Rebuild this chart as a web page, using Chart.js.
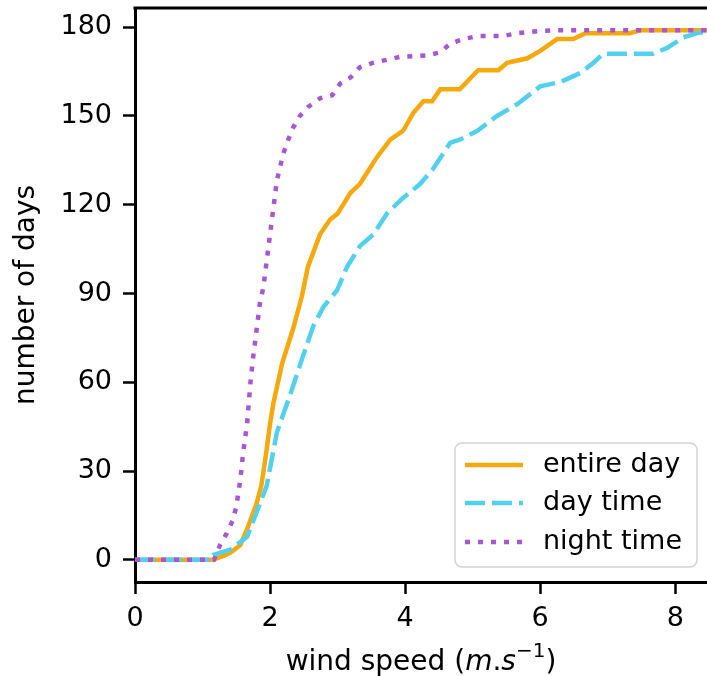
<!DOCTYPE html>
<html>
<head>
<meta charset="utf-8">
<script src="https://cdn.jsdelivr.net/npm/chart.js@4.4.1/dist/chart.umd.min.js"></script>
<style>
  html, body { margin: 0; padding: 0; background: #fff; }
  #chart { display: block; }
</style>
</head>
<body>
<canvas id="chart" width="707" height="676"></canvas>
<script>
// cumulative number of days vs wind speed
const entireSpeed = [0, 1.15, 1.3, 1.41, 1.56, 1.67, 1.8, 1.87, 1.93, 2.0, 2.05, 2.18, 2.34, 2.47, 2.56, 2.74, 2.89, 3.0, 3.19, 3.33, 3.58, 3.78, 3.97, 4.12, 4.27, 4.4, 4.52, 4.81, 5.08, 5.38, 5.51, 5.81, 6.0, 6.25, 6.49, 6.67, 7.33, 7.48, 8.47];
const entireDays  = [0, 0, 1.2, 2.4, 5, 11, 19, 25, 34, 46, 53, 66.5, 78, 89, 99, 110, 115, 117, 124, 127, 136, 142, 145, 151, 155, 155, 159, 159, 165.5, 165.5, 168, 169.5, 172, 176, 176, 178, 178, 179, 179];

const daySpeed = [0, 1.12, 1.16, 1.41, 1.66, 1.8, 1.95, 2.1, 2.3, 2.49, 2.64, 2.79, 2.99, 3.14, 3.33, 3.53, 3.73, 3.93, 4.22, 4.41, 4.67, 4.81, 5.07, 5.36, 5.66, 6.0, 6.3, 6.59, 6.79, 6.93, 7.67, 7.88, 8.12, 8.33, 8.47];
const dayDays  = [0, 0, 1.7, 3.4, 7.8, 16, 25, 43, 56, 69, 79, 85.5, 91, 99, 106, 110, 117, 121.5, 127, 132, 141, 142, 145, 150, 154, 160, 161.5, 164.5, 168, 171, 171, 173, 176.6, 178, 178.5];

const nightSpeed = [0, 1.17, 1.26, 1.36, 1.45, 1.5, 1.56, 1.6, 1.66, 1.71, 1.75, 1.8, 1.85, 1.9, 1.95, 2.0, 2.05, 2.1, 2.15, 2.2, 2.27, 2.34, 2.44, 2.56, 2.74, 2.92, 3.04, 3.19, 3.33, 3.53, 3.73, 3.93, 4.32, 4.52, 4.67, 4.86, 5.07, 5.45, 5.66, 6.04, 6.25, 8.47];
const nightDays  = [0, 0, 5, 9, 13.5, 18, 27, 36, 46, 60, 68.5, 77.7, 86.8, 92, 101, 110, 119, 128, 133, 137.5, 142, 146, 150, 153, 156, 157, 161, 163, 166.5, 168, 169, 170, 170.5, 171.5, 174.5, 176, 177, 177, 178, 178.8, 179, 179];

const seriesNames = ['entire day', 'day time', 'night time'];
const xTicks = [0, 2, 4, 6, 8];
const yTicks = [0, 30, 60, 90, 120, 150, 180];

const FONT = 'DejaVu Sans';

function toPoints(xs, ys) {
  return xs.map((x, i) => ({ x: x, y: ys[i] }));
}

// top spine, x label with math part, legend box
const extras = {
  id: 'extras',
  afterDraw(chart) {
    const ctx = chart.ctx;
    const a = chart.chartArea;
    ctx.save();

    ctx.strokeStyle = '#000';
    ctx.lineWidth = 3;
    ctx.beginPath();
    ctx.moveTo(a.left - 1.5, a.top);
    ctx.lineTo(a.right, a.top);
    ctx.stroke();

    // x label: wind speed (m.s^-1)
    const size = 28;
    const parts = [
      { t: 'wind speed (', f: size + 'px "' + FONT + '"', dy: 0 },
      { t: 'm', f: 'oblique ' + size + 'px "' + FONT + '"', dy: 0 },
      { t: '.', f: size + 'px "' + FONT + '"', dy: 0 },
      { t: 's', f: 'oblique ' + size + 'px "' + FONT + '"', dy: 0 },
      { t: '\u22121', f: Math.round(size * 0.72) + 'px "' + FONT + '"', dy: -13 },
      { t: ')', f: size + 'px "' + FONT + '"', dy: 0 }
    ];
    let total = 0;
    parts.forEach(p => { ctx.font = p.f; p.w = ctx.measureText(p.t).width; total += p.w; });
    let x = (a.left + a.right) / 2 - total / 2;
    ctx.fillStyle = '#000';
    ctx.textBaseline = 'alphabetic';
    ctx.textAlign = 'left';
    parts.forEach(p => { ctx.font = p.f; ctx.fillText(p.t, x, 670 + p.dy); x += p.w; });

    // legend
    const bx = 455, by = 443, bw = 242, bh = 124;
    ctx.beginPath();
    ctx.roundRect(bx, by, bw, bh, 7);
    ctx.fillStyle = 'rgba(255,255,255,0.85)';
    ctx.fill();
    ctx.strokeStyle = '#d4d4d4';
    ctx.lineWidth = 1.5;
    ctx.stroke();

    const rows = [465, 503, 542];
    chart.data.datasets.forEach((ds, i) => {
      ctx.strokeStyle = ds.borderColor;
      ctx.lineWidth = ds.borderWidth;
      ctx.setLineDash(ds.borderDash || []);
      ctx.lineCap = 'butt';
      ctx.beginPath();
      ctx.moveTo(465, rows[i]);
      ctx.lineTo(523, rows[i]);
      ctx.stroke();
      ctx.setLineDash([]);
      ctx.fillStyle = '#000';
      ctx.font = '27px "' + FONT + '"';
      ctx.textBaseline = 'middle';
      ctx.fillText(ds.label, 543, rows[i]);
    });
    ctx.restore();
  }
};

new Chart(document.getElementById('chart'), {
  type: 'line',
  data: {
    datasets: [
      {
        label: seriesNames[0],
        data: toPoints(entireSpeed, entireDays),
        borderColor: '#f7a80c',
        borderWidth: 4.5,
        order: 3
      },
      {
        label: seriesNames[1],
        data: toPoints(daySpeed, dayDays),
        borderColor: '#52d1ee',
        borderWidth: 4.5,
        borderDash: [20, 7],
        order: 2
      },
      {
        label: seriesNames[2],
        data: toPoints(nightSpeed, nightDays),
        borderColor: '#aa55d6',
        borderWidth: 4.5,
        borderDash: [5, 8],
        order: 1
      }
    ]
  },
  options: {
    responsive: false,
    animation: false,
    devicePixelRatio: 1,
    layout: { padding: { top: 8, right: 0, left: 0, bottom: 0 } },
    elements: {
      point: { radius: 0 },
      line: { tension: 0, fill: false, borderCapStyle: 'butt' }
    },
    plugins: {
      legend: { display: false },
      tooltip: { enabled: false }
    },
    scales: {
      x: {
        type: 'linear',
        min: 0,
        max: 8.47,
        afterBuildTicks: s => { s.ticks = xTicks.map(v => ({ value: v })); },
        afterFit: s => { s.height = 94; s.paddingLeft = 0; s.paddingRight = 0; },
        ticks: {
          color: '#000',
          font: { family: FONT, size: 27 },
          padding: 9,
          maxRotation: 0
        },
        grid: {
          drawOnChartArea: false,
          drawTicks: true,
          tickLength: 12,
          tickWidth: 2.5,
          tickColor: '#000'
        },
        border: { display: true, color: '#000', width: 3 }
      },
      y: {
        type: 'linear',
        min: -7.5,
        max: 186.5,
        afterBuildTicks: s => { s.ticks = yTicks.map(v => ({ value: v })); },
        afterFit: s => { s.width = 135; s.paddingTop = 0; s.paddingBottom = 0; },
        ticks: {
          color: '#000',
          font: { family: FONT, size: 27 },
          padding: 11
        },
        grid: {
          drawOnChartArea: false,
          drawTicks: true,
          tickLength: 12,
          tickWidth: 2.5,
          tickColor: '#000'
        },
        border: { display: true, color: '#000', width: 3 },
        title: {
          display: true,
          text: 'number of days',
          color: '#000',
          font: { family: FONT, size: 28 },
          padding: { top: 10 }
        }
      }
    }
  },
  plugins: [extras]
});
</script>
</body>
</html>
